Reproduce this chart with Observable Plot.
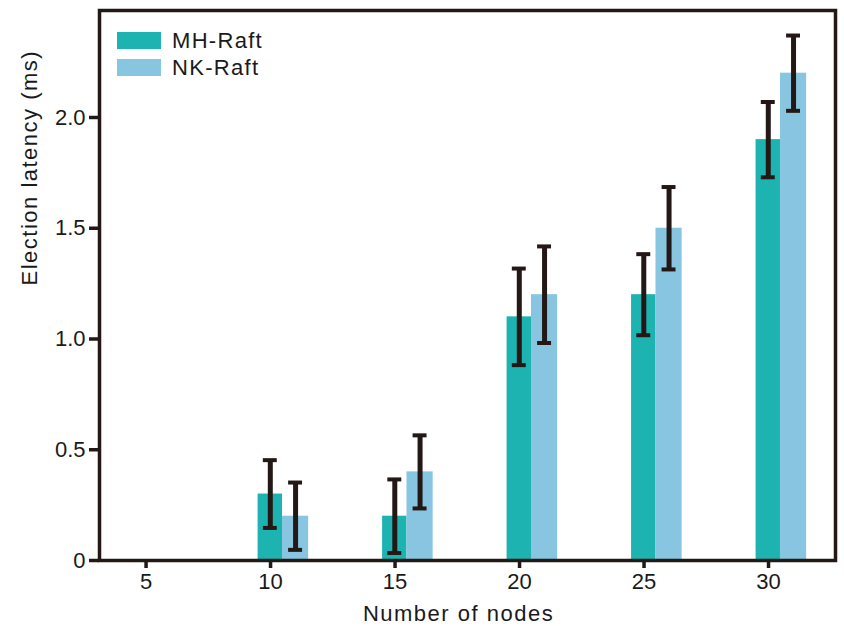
<!DOCTYPE html>
<html>
<head>
<meta charset="utf-8">
<script src="https://cdn.jsdelivr.net/npm/d3@7"></script>
<script src="https://cdn.jsdelivr.net/npm/@observablehq/plot@0.6"></script>
<style>
  html, body { margin: 0; padding: 0; background: #fff; }
  #wrap { position: relative; width: 844px; height: 626px; font-family: "Liberation Sans", Arial, sans-serif; }
  .title-text { letter-spacing: 1.5px; }
  #legend { position: absolute; left: 117px; top: 27px; font-size: 22px; color: #1a1a1a; letter-spacing: 1.3px; }
  #legend .row { display: flex; align-items: center; height: 27px; }
  #legend .sw { width: 44px; height: 17px; margin-right: 11px; }
</style>
</head>
<body>
<div id="wrap"></div>
<script>
const xTicks = [5, 10, 15, 20, 25, 30];
const yTicks = [0, 0.5, 1.0, 1.5, 2.0];
const nodes = [10, 15, 20, 25, 30];
const seriesNames = ["MH-Raft", "NK-Raft"];
const seriesColors = ["#1cb3b0", "#87c5e0"];
const mhLatency = [0.3, 0.2, 1.1, 1.2, 1.9];
const nkLatency = [0.2, 0.4, 1.2, 1.5, 2.2];
const mhError = [0.153, 0.166, 0.218, 0.183, 0.17];
const nkError = [0.152, 0.165, 0.218, 0.186, 0.17];
const xTitle = "Number of nodes";
const yTitle = "Election latency (ms)";

const rows = [];
nodes.forEach((n, i) => {
  rows.push({nodes: n, series: seriesNames[0], value: mhLatency[i], err: mhError[i]});
  rows.push({nodes: n, series: seriesNames[1], value: nkLatency[i], err: nkError[i]});
});
// bar extents relative to the node value, per series
const offsets = {"MH-Raft": [-0.5, 0.48], "NK-Raft": [0.48, 1.53]};
const x1 = d => d.nodes + offsets[d.series][0];
const x2 = d => d.nodes + offsets[d.series][1];
const xc = d => (x1(d) + x2(d)) / 2;
const capHalf = 0.28;
const ink = "#231815";

const chart = Plot.plot({
  width: 844,
  height: 626,
  marginLeft: 99,
  marginRight: 9,
  marginTop: 10,
  marginBottom: 66,
  style: {fontFamily: "'Liberation Sans', Arial, sans-serif", fontSize: "22px", color: "#1a1a1a", background: "white", overflow: "visible"},
  x: {type: "linear", domain: [3.13, 32.69]},
  y: {domain: [0, 2.483]},
  color: {domain: seriesNames, range: seriesColors},
  marks: [
    Plot.rect(rows, {x1, x2, y1: 0, y2: "value", fill: "series"}),
    Plot.ruleX(rows, {x: xc, y1: d => d.value - d.err, y2: d => d.value + d.err, stroke: ink, strokeWidth: 5}),
    Plot.ruleY(rows, {y: d => d.value + d.err, x1: d => xc(d) - capHalf, x2: d => xc(d) + capHalf, stroke: ink, strokeWidth: 4}),
    Plot.ruleY(rows, {y: d => d.value - d.err, x1: d => xc(d) - capHalf, x2: d => xc(d) + capHalf, stroke: ink, strokeWidth: 4}),
    Plot.axisX({ticks: xTicks, tickSize: 8, tickPadding: 5, stroke: ink, strokeWidth: 3.5, fontSize: 22, label: null, tickFormat: d => String(d)}),
    Plot.axisY({ticks: yTicks, tickSize: 10, tickPadding: 4, stroke: ink, strokeWidth: 3.5, fontSize: 22, label: null, tickFormat: d => d === 0 ? "0" : d.toFixed(1)}),
    Plot.frame({stroke: ink, strokeWidth: 3.5}),
    Plot.text([xTitle], {frameAnchor: "bottom", dx: -9, dy: 53, lineAnchor: "middle", fontSize: 22, fill: "#1a1a1a", className: "title-text", text: d => d}),
    Plot.text([yTitle], {frameAnchor: "left", dx: -70, rotate: -90, lineAnchor: "middle", fontSize: 22, fill: "#1a1a1a", className: "title-text", text: d => d})
  ]
});
const wrap = document.getElementById("wrap");
wrap.appendChild(chart);

const legend = document.createElement("div");
legend.id = "legend";
seriesNames.forEach((name, i) => {
  const row = document.createElement("div");
  row.className = "row";
  const sw = document.createElement("div");
  sw.className = "sw";
  sw.style.background = seriesColors[i];
  const label = document.createElement("span");
  label.textContent = name;
  row.appendChild(sw);
  row.appendChild(label);
  legend.appendChild(row);
});
wrap.appendChild(legend);
</script>
</body>
</html>
